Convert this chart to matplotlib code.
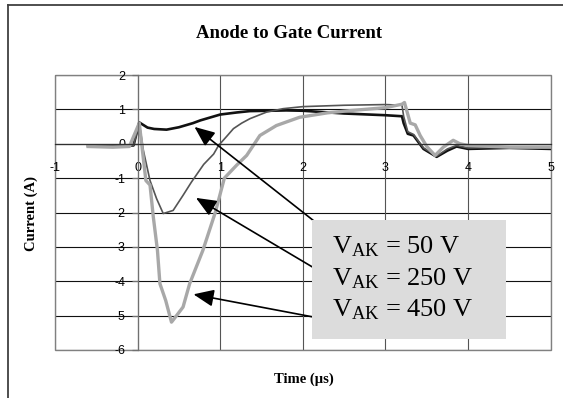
import matplotlib
matplotlib.use('Agg')
import matplotlib.pyplot as plt
from matplotlib.patches import Rectangle
from matplotlib.lines import Line2D

# ---------------- data ----------------
t50 = [-0.6, -0.3, -0.05, 0.02, 0.12, 0.2, 0.35, 0.5, 0.67, 0.76, 1.0, 1.2, 1.36, 1.6, 1.8, 2.0,
       2.5, 3.0, 3.2, 3.22, 3.27, 3.34, 3.46, 3.62, 3.75, 3.86, 4.0, 4.5, 5.0]
i50 = [-0.05, -0.05, -0.05, 0.62, 0.47, 0.43, 0.41, 0.48, 0.6, 0.68, 0.85, 0.91, 0.95, 0.96, 0.97, 0.96,
       0.88, 0.83, 0.8, 0.6, 0.29, 0.24, -0.15, -0.38, -0.2, -0.08, -0.15, -0.12, -0.15]

t250 = [-0.6, -0.05, 0.02, 0.07, 0.15, 0.23, 0.31, 0.43, 0.55, 0.65, 0.8, 0.92, 0.98, 1.08, 1.16,
        1.26, 1.36, 1.56, 1.76, 2.0, 2.5, 3.0, 3.2, 3.22, 3.27, 3.34, 3.46, 3.62, 3.75, 3.86, 4.0, 4.5, 5.0]
i250 = [-0.05, -0.05, 0.6, -0.2, -1.07, -1.6, -2.03, -1.94, -1.5, -1.12, -0.6, -0.3, -0.05, 0.22, 0.44,
        0.6, 0.73, 0.92, 1.02, 1.08, 1.12, 1.14, 1.12, 0.8, 0.35, 0.27, -0.12, -0.36, -0.15, -0.05, -0.12, -0.1, -0.12]

t450 = [-0.6, -0.3, -0.1, 0.02, 0.1, 0.15, 0.19, 0.24, 0.27, 0.34, 0.41, 0.49, 0.55, 0.63, 0.79, 0.94,
        1.05, 1.2, 1.32, 1.4, 1.48, 1.68, 1.96, 2.3, 2.6, 3.0, 3.2, 3.23, 3.3, 3.36, 3.42, 3.5, 3.6, 3.7,
        3.82, 3.9, 4.0, 4.5, 5.0]
i450 = [-0.08, -0.1, -0.08, 0.6, -1.07, -1.2, -2.13, -3.1, -4.07, -4.56, -5.19, -4.94, -4.75, -4.07, -3.1, -2.0,
        -1.0, -0.62, -0.34, -0.05, 0.24, 0.53, 0.77, 0.9, 0.97, 1.05, 1.15, 1.2, 0.6, 0.55, 0.24, -0.08, -0.34, -0.1,
        0.1, 0.0, -0.05, -0.1, -0.1]

xticks = [-1, 0, 1, 2, 3, 4, 5]
yticks = [-6, -5, -4, -3, -2, -1, 0, 1, 2]

labels = ["50", "250", "450"]
arrow_tips = [(0.688, 0.49), (0.706, -1.575), (0.676, -4.38)]
arrow_tails = [(2.126, -2.23), (2.126, -3.6), (2.126, -5.04)]

# ---------------- figure ----------------
plt.rcParams['axes.unicode_minus'] = False
plt.rcParams['mathtext.fontset'] = 'custom'
plt.rcParams['mathtext.rm'] = 'Liberation Serif'
plt.rcParams['mathtext.it'] = 'Liberation Serif:italic'

W, H = 563, 398
fig = plt.figure(figsize=(W / 100, H / 100), dpi=100)
fig.patch.set_facecolor('white')

# outer frame (top and left edges visible)
fig.add_artist(Line2D([8 / W, 8 / W], [0, 1 - 5 / H], transform=fig.transFigure, color='#404040', lw=1.3))
fig.add_artist(Line2D([8 / W, 1], [1 - 5 / H, 1 - 5 / H], transform=fig.transFigure, color='#404040', lw=1.3))

ax = fig.add_axes([55 / W, 1 - 350 / H, (550.7 - 55) / W, (350 - 75) / H])
ax.set_xlim(-1, 5)
ax.set_ylim(-6, 2)
ax.set_facecolor('white')

for s in ['top', 'right']:
    ax.spines[s].set_visible(False)
ax.spines['left'].set_position(('data', 0))
ax.spines['bottom'].set_position(('data', 0))
ax.spines['left'].set_color('#707070')
ax.spines['bottom'].set_color('#303030')
ax.spines['left'].set_linewidth(0.9)
ax.spines['bottom'].set_linewidth(0.9)

ax.set_xticks(xticks)
ax.set_yticks(yticks)
ax.set_xticklabels([str(v) for v in xticks], fontfamily='Liberation Sans', fontsize=9)
ax.set_yticklabels([str(v) for v in yticks], fontfamily='Liberation Sans', fontsize=9)
ax.tick_params(axis='y', direction='out', length=4, width=0.9, color='#707070', pad=5)
ax.tick_params(axis='x', length=0, pad=13)

# grid
for y in yticks:
    ax.axhline(y, color='#111111', lw=0.8, zorder=0.5)
for x in xticks:
    ax.axvline(x, color='#555555', lw=0.8, zorder=0.5)
ax.add_patch(Rectangle((0, 0), 1, 1, transform=ax.transAxes, fill=False,
                       edgecolor='#808080', lw=1.0, zorder=0.6, clip_on=False))

# curves
ax.plot(t50, i50, color='#111111', lw=1.9, zorder=2)
ax.plot(t250, i250, color='#555555', lw=1.2, zorder=2.1)
ax.plot(t450, i450, color='#a8a8a8', lw=2.4, zorder=2.2)

# annotation box
ax.add_patch(Rectangle((2.113, -5.69), 2.34, 3.46, facecolor='#dcdcdc', edgecolor='none', zorder=4))

for tip, tail in zip(arrow_tips, arrow_tails):
    ax.annotate('', xy=tip, xytext=tail, xycoords='data', textcoords='data',
                arrowprops=dict(arrowstyle='-|>,head_length=0.95,head_width=0.4', mutation_scale=13,
                                color='black', lw=1.2, shrinkA=0, shrinkB=0),
                zorder=3, annotation_clip=False)

base_y = [253.3, 285.0, 316.7]
for lab, by in zip(labels, base_y):
    fig.text(331.7 / W, 1 - by / H, r'V$_{\mathrm{AK}}$ = ' + lab + ' V', fontfamily='Liberation Serif',
             fontsize=19, va='baseline', ha='left', zorder=5)

# titles
fig.text(289 / W, 1 - 38.3 / H, 'Anode to Gate Current', fontfamily='Liberation Serif', fontweight='bold',
         fontsize=13.5, ha='center', va='baseline')
fig.text(31 / W, 1 - 213 / H, 'Current (A)', fontfamily='Liberation Serif', fontweight='bold',
         fontsize=10.5, ha='center', va='center', rotation=90)
fig.text(303.5 / W, 1 - 379 / H, 'Time (µs)', fontfamily='Liberation Serif', fontweight='bold',
         fontsize=10.5, ha='center', va='center')

fig.savefig('out.png', dpi=100)
